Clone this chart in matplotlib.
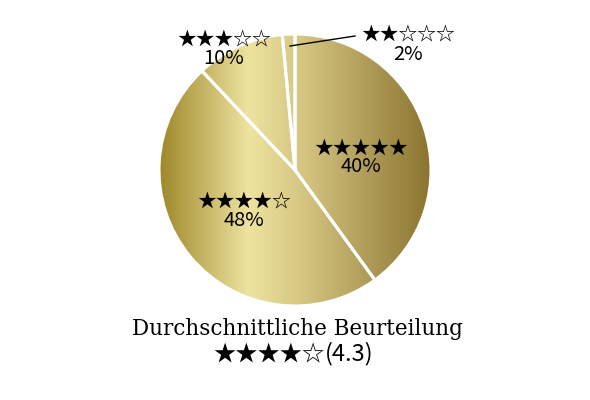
import numpy as np
import matplotlib.pyplot as plt
from matplotlib.colors import LinearSegmentedColormap
from matplotlib.patches import Circle

# slice shares as drawn (labels are rounded)
shares = [40.0, 48.0, 10.5, 1.5]
star_labels = ["★★★★★", "★★★★☆", "★★★☆☆", "★★☆☆☆"]
pct_labels = ["40%", "48%", "10%", "2%"]
title_text = "Durchschnittliche Beurteilung"
average_stars = "★★★★☆"
average_value = "(4.3)"

LABEL_FONT = ["Noto Sans CJK JP", "DejaVu Sans"]


def draw_chart():
    fig = plt.figure(figsize=(5.9, 4.0), dpi=100)
    ax = fig.add_axes([0, 0, 1, 1])

    cx, cy, r = 295, 230, 136

    wedges, _ = ax.pie(
        shares,
        center=(cx, cy),
        radius=r,
        startangle=90,
        counterclock=False,
        wedgeprops=dict(facecolor="none", edgecolor="white", linewidth=2.2),
    )
    for w in wedges:
        w.set_zorder(3)

    # gold gradient across the whole pie
    gold = LinearSegmentedColormap.from_list(
        "gold",
        [(0.0, "#9e882a"), (0.33, "#eee3a0"), (0.55, "#d2c27e"), (1.0, "#8a7430")],
    )
    grad = np.linspace(0, 1, 300).reshape(1, -1)
    img = ax.imshow(
        grad,
        cmap=gold,
        extent=[cx - r, cx + r, cy - r, cy + r],
        aspect="auto",
        zorder=1,
        interpolation="bilinear",
    )
    clip = Circle((cx, cy), r, transform=ax.transData)
    img.set_clip_path(clip)

    # labels inside / outside the slices
    label_pos = [(361, 148, 167), (244, 201, 220), (224, 39, 58), (408, 34, 54)]
    for stars, pct, (x, ys, yp) in zip(star_labels, pct_labels, label_pos):
        ax.text(x, 400 - ys, stars, ha="center", va="center",
                fontsize=13.5, family=LABEL_FONT, zorder=4)
        ax.text(x, 400 - yp, pct, ha="center", va="center",
                fontsize=14.5, family=LABEL_FONT, zorder=4)

    # leader line for the small slice
    ax.plot([290, 355], [400 - 46, 400 - 36], color="black", lw=1, zorder=4)

    # average rating below the pie
    ax.text(297, 400 - 329, title_text, ha="center", va="center",
            fontsize=15.5, family="DejaVu Serif")
    ax.text(324, 400 - 354, average_stars, ha="right", va="center",
            fontsize=16, family=LABEL_FONT)
    ax.text(325, 400 - 354, average_value, ha="left", va="center",
            fontsize=17, family=LABEL_FONT)

    ax.set_xlim(0, 590)
    ax.set_ylim(0, 400)
    ax.set_aspect("equal")
    ax.axis("off")

    fig.savefig("out.png", dpi=100)


if __name__ == "__main__":
    draw_chart()
